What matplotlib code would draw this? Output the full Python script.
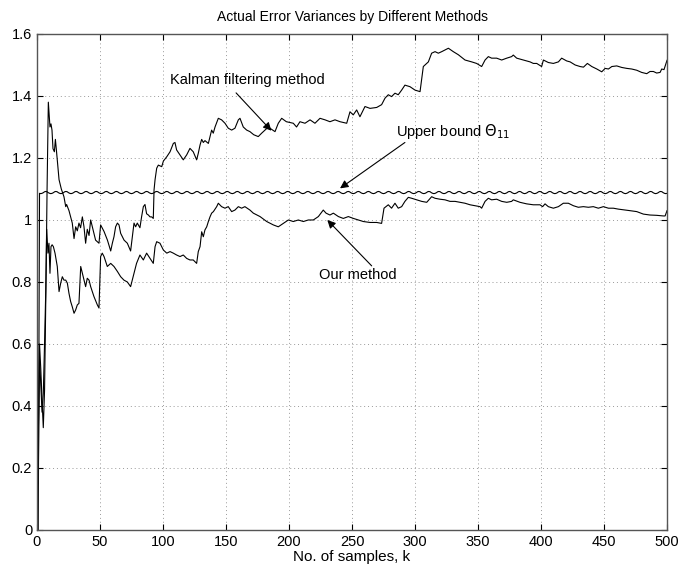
import numpy as np
import matplotlib
matplotlib.use("Agg")
import matplotlib.pyplot as plt

plt.rcParams['font.family'] = ['Liberation Sans', 'DejaVu Sans']

######################################################################
# Values
TITLE = "Actual Error Variances by Different Methods"
XLABEL = "No. of samples, k"

kalman_k = [1, 2, 3, 4, 5, 6, 7, 8, 9, 10.3, 11.1, 11.9, 12.7, 13.8, 14.6, 15.3,
            17.5, 19.3, 21.4, 22.8, 23.5, 25.4, 26.7, 28, 29.4, 30.7, 32, 33.3,
            34.6, 36, 37.3, 38.6, 39.9, 41.3, 42.6, 43.9, 46.5, 49.2, 50.5, 53.2,
            55.9, 58.5, 59.8, 61.1, 62.4, 63.8, 65.1, 66.4, 69.1, 71.7, 74.3, 75.7,
            77, 78.3, 79.6, 81.7, 83, 84.4, 85.7, 87, 88.4, 89.7, 91, 92.3, 92.9,
            93.7, 95, 96.3, 99, 100.3, 103, 105.6, 108.2, 109.5, 110.8, 113.5,
            116.1, 118.8, 121.4, 124, 126.7, 128, 129.4, 130.7, 132, 133.3, 136,
            138.6, 139.9, 141.3, 143.9, 146.5, 149.2, 151.8, 154.5, 157.1, 159.8,
            161.1, 163.7, 166.4, 169, 172, 175.6, 178.3, 181, 183.6, 186.3, 188.9,
            191.5, 194.2, 197.9, 203.4, 206, 208.7, 212.7, 216.7, 220.6, 224.6,
            228.6, 232.5, 236.5, 240.5, 245.8, 248.4, 251, 253.7, 256.3, 260.3,
            264.3, 269.6, 273.5, 276.2, 278.8, 281.4, 284.1, 286.7, 289.4, 292,
            296, 300, 304, 306.6, 307.9, 310.6, 313.2, 315.9, 318.5, 321.2, 326.5,
            330.4, 334.4, 339.7, 345, 348.9, 352.9, 355.6, 358.2, 360.8, 364.8,
            368.8, 372.8, 376.7, 378, 380.7, 386, 391.3, 393.9, 396.6, 400.5,
            401.9, 405.8, 409.8, 413.8, 416.4, 420.4, 423.1, 427.1, 431, 433.7,
            436.8, 440.3, 444.3, 448.2, 450.9, 453.5, 456.2, 460.1, 464.1, 468.1,
            472, 476, 479.9, 483.9, 486.5, 489.2, 491.8, 494.5, 495.8, 497.6, 500]
kalman_v = [0.15, 0.60, 0.52, 0.42, 0.33, 0.45, 0.75, 1.10, 1.38, 1.30, 1.31, 1.29,
            1.23, 1.22, 1.26, 1.23, 1.13, 1.10, 1.075, 1.043, 1.05, 1.03, 1.01,
            0.99, 0.94, 0.978, 0.965, 0.99, 0.975, 1.01, 0.978, 0.925, 0.97, 0.95,
            1.0, 0.978, 0.935, 0.925, 0.984, 0.963, 0.935, 0.90, 0.925, 0.946,
            0.978, 0.99, 0.984, 0.957, 0.935, 0.925, 0.90, 0.946, 0.99, 0.978,
            0.99, 0.975, 1.01, 1.043, 1.05, 1.02, 1.016, 1.01, 1.01, 1.005, 1.097,
            1.13, 1.167, 1.177, 1.172, 1.19, 1.204, 1.22, 1.247, 1.25, 1.226, 1.21,
            1.194, 1.21, 1.231, 1.22, 1.194, 1.215, 1.242, 1.26, 1.25, 1.256,
            1.247, 1.29, 1.28, 1.30, 1.328, 1.323, 1.312, 1.296, 1.29, 1.296,
            1.323, 1.328, 1.30, 1.29, 1.285, 1.275, 1.269, 1.28, 1.29, 1.30,
            1.292, 1.285, 1.312, 1.328, 1.317, 1.312, 1.30, 1.317, 1.312, 1.323,
            1.312, 1.328, 1.323, 1.317, 1.323, 1.317, 1.312, 1.349, 1.339, 1.355,
            1.333, 1.366, 1.36, 1.363, 1.372, 1.393, 1.404, 1.398, 1.409, 1.404,
            1.419, 1.435, 1.43, 1.419, 1.414, 1.495, 1.50, 1.51, 1.538, 1.543,
            1.538, 1.543, 1.554, 1.543, 1.533, 1.516, 1.51, 1.505, 1.495, 1.516,
            1.527, 1.522, 1.522, 1.516, 1.522, 1.527, 1.532, 1.522, 1.516, 1.51,
            1.505, 1.505, 1.495, 1.516, 1.508, 1.505, 1.51, 1.522, 1.513, 1.51,
            1.50, 1.495, 1.493, 1.505, 1.495, 1.487, 1.478, 1.489, 1.487, 1.495,
            1.497, 1.492, 1.489, 1.487, 1.483, 1.476, 1.472, 1.479, 1.479, 1.474,
            1.476, 1.487, 1.485, 1.515]

ours_k = [1, 2, 3, 4, 5, 6, 7, 7.7, 8.7, 9.5, 10.3, 11.1, 12, 13, 14.3, 16.1,
          17.5, 18.8, 20.1, 21.4, 22.8, 24.1, 25.4, 26.7, 28, 29.4, 30.7, 32,
          33.3, 34.7, 36, 37.3, 38.6, 39.9, 41.3, 42.6, 45.2, 47.9, 49.2, 50.5,
          51.8, 53.2, 55.8, 58.5, 61.1, 63.8, 66.4, 69, 71.7, 74.3, 77, 78.3, 79,
          81.7, 84.4, 87, 89.7, 92.3, 93.7, 95, 97.6, 100.3, 103, 105.6, 108.2,
          110.8, 113.5, 116.1, 118.8, 121.4, 124, 126.7, 128, 129.4, 130.7, 132,
          133.3, 134.7, 136, 137.3, 138.6, 140, 142.6, 143.9, 146.5, 149.2,
          151.8, 154.5, 157.1, 159.8, 162.4, 165, 169, 171.7, 177, 182.3, 187.6,
          191.5, 195.5, 199.5, 203.4, 207.4, 211.4, 215.3, 219.3, 223.3, 227.2,
          229.4, 232.5, 235.2, 239.2, 243.1, 247.1, 251.1, 255, 259, 264.3,
          269.6, 273.5, 275.4, 276.9, 278.8, 281.4, 284.1, 286.7, 289.4, 292,
          294.7, 297.4, 301.3, 305.3, 309.3, 313.2, 315.9, 319.8, 323.8, 327.8,
          331.8, 335.7, 339.7, 343.7, 347.6, 351.6, 352.9, 355.6, 358.2, 360.8,
          364.8, 368.8, 372.8, 376.7, 378, 383.3, 388.6, 393.9, 399.2, 401.3,
          403.2, 405.8, 409.8, 413.8, 417.7, 421.7, 425.7, 429.6, 433.6, 437.6,
          441.5, 445.5, 449.5, 453.5, 457.4, 461.4, 465.4, 470.7, 476, 481.2,
          486.5, 491.8, 497.1, 498.5, 500]
ours_v = [0.30, 0.55, 0.47, 0.38, 0.44, 0.60, 0.78, 0.97, 0.893, 0.925, 0.828,
          0.914, 0.92, 0.914, 0.893, 0.85, 0.769, 0.796, 0.817, 0.806, 0.806,
          0.796, 0.763, 0.737, 0.72, 0.699, 0.71, 0.726, 0.731, 0.85, 0.828,
          0.806, 0.785, 0.812, 0.806, 0.785, 0.753, 0.726, 0.716, 0.882, 0.893,
          0.882, 0.85, 0.86, 0.85, 0.834, 0.817, 0.806, 0.80, 0.785, 0.828, 0.85,
          0.86, 0.887, 0.871, 0.893, 0.876, 0.86, 0.914, 0.93, 0.925, 0.903,
          0.893, 0.898, 0.893, 0.887, 0.882, 0.887, 0.876, 0.871, 0.871, 0.86,
          0.898, 0.914, 0.962, 0.946, 0.968, 0.978, 0.995, 1.01, 1.022, 1.027,
          1.043, 1.054, 1.043, 1.038, 1.043, 1.027, 1.032, 1.043, 1.038, 1.043,
          1.032, 1.022, 1.011, 0.995, 0.984, 0.978, 0.989, 1.0, 0.995, 1.0, 0.995,
          1.0, 1.0, 1.011, 1.032, 1.022, 1.016, 1.022, 1.011, 1.005, 1.011, 1.005,
          1.0, 0.995, 0.992, 0.992, 0.989, 1.038, 1.043, 1.049, 1.038, 1.054,
          1.038, 1.043, 1.06, 1.073, 1.07, 1.065, 1.06, 1.057, 1.075, 1.07, 1.067,
          1.065, 1.06, 1.06, 1.057, 1.054, 1.049, 1.046, 1.043, 1.038, 1.06, 1.07,
          1.065, 1.067, 1.06, 1.057, 1.06, 1.065, 1.057, 1.052, 1.049, 1.049,
          1.043, 1.052, 1.043, 1.038, 1.043, 1.054, 1.054, 1.046, 1.041, 1.043,
          1.041, 1.043, 1.038, 1.043, 1.038, 1.038, 1.035, 1.033, 1.03, 1.027,
          1.019, 1.016, 1.015, 1.013, 1.013, 1.03]

# upper bound: step up at the start, then a steady ripple of period 8 samples
ub_start_k = [1, 2]
ub_start_v = [0.0, 1.086]
ub_cycle = [1.085, 1.086, 1.088, 1.091, 1.092, 1.091, 1.088, 1.086]

X_TICKS = [0, 50, 100, 150, 200, 250, 300, 350, 400, 450, 500]
Y_TICKS = [0, 0.2, 0.4, 0.6, 0.8, 1.0, 1.2, 1.4, 1.6]
Y_TICKLABELS = ["0", "0.2", "0.4", "0.6", "0.8", "1", "1.2", "1.4", "1.6"]

ub_k = np.concatenate([ub_start_k, np.arange(3, 501)])
ub_v = np.concatenate([ub_start_v, np.resize(ub_cycle, 498)])

fig = plt.figure(figsize=(6.8, 5.74), dpi=100)
ax = fig.add_axes([0.0544, 0.0767, 0.9265, 0.8641])

ax.plot(kalman_k, kalman_v, color='black', lw=0.8)
ax.plot(ours_k, ours_v, color='black', lw=0.8)
ax.plot(ub_k, ub_v, color='black', lw=0.8)

ax.set_xlim(0, 500)
ax.set_ylim(0, 1.6)
ax.set_xticks(X_TICKS)
ax.set_yticks(Y_TICKS)
ax.set_yticklabels(Y_TICKLABELS)
ax.tick_params(direction='in', top=True, right=True, length=4,
               labelsize=10.5, colors='black', width=0.8)
ax.grid(True, linestyle=(0, (1, 3)), color='#999999', lw=0.7)
for s in ax.spines.values():
    s.set_color('#555555')
    s.set_linewidth(1.0)

ax.set_title(TITLE, fontsize=10, pad=9)
ax.set_xlabel(XLABEL, fontsize=11, labelpad=1)

arrow = dict(arrowstyle='-|>', color='black', lw=0.8, mutation_scale=12,
             shrinkA=0, shrinkB=0)
# labels and their pointer arrows
ax.text(167, 1.452, "Kalman filtering method", ha='center', va='center', fontsize=10.5)
ax.annotate("", xy=(186, 1.288), xytext=(158, 1.41), arrowprops=arrow)
ax.text(330, 1.284, r"Upper bound $\Theta_{11}$", ha='center', va='center', fontsize=10.5)
ax.annotate("", xy=(240.5, 1.102), xytext=(292, 1.25), arrowprops=arrow)
ax.text(255, 0.823, "Our method", ha='center', va='center', fontsize=10.5)
ax.annotate("", xy=(230.4, 1.0), xytext=(265.6, 0.852), arrowprops=arrow)

fig.savefig("out.png", dpi=100)
